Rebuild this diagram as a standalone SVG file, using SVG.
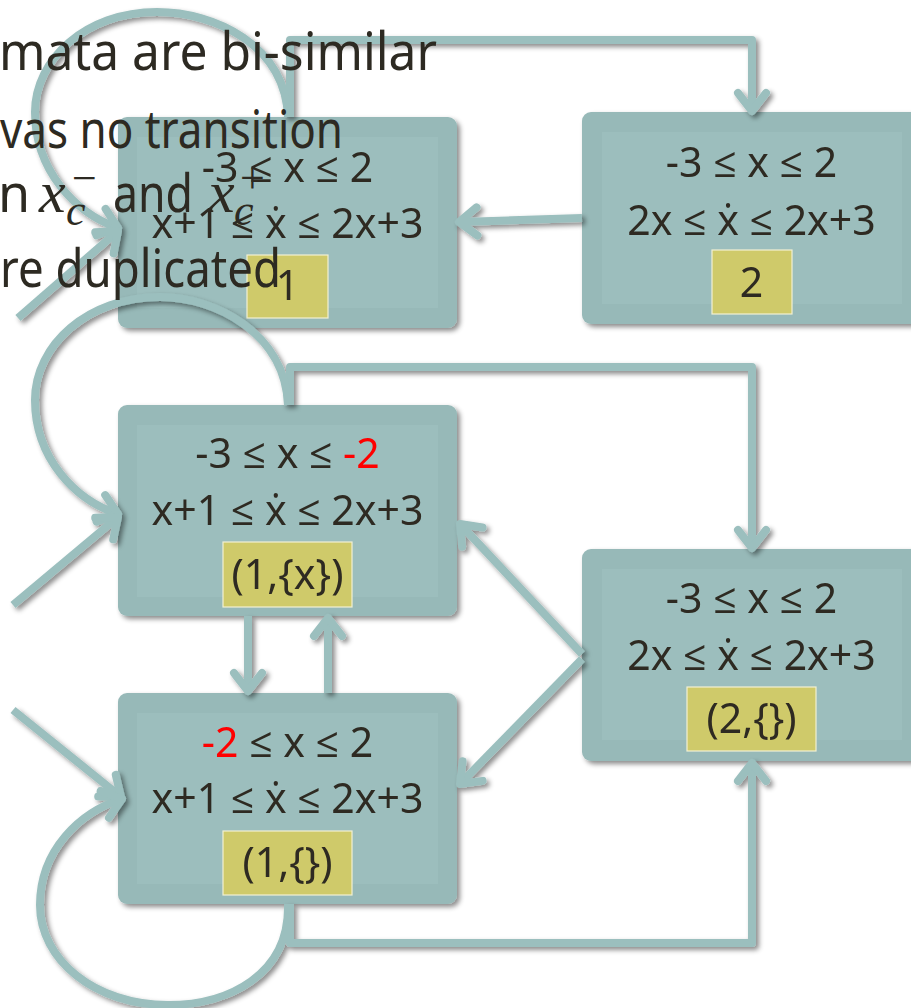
<svg xmlns="http://www.w3.org/2000/svg" width="911" height="1008" viewBox="0 0 911 1008">
<style>
.outer{fill:#97b9b8;}
.inner{fill:#9cbebd;}
.lab{fill:#cfca6a;stroke:#f2f0d2;stroke-width:1.2;}
.t{font-family:"Noto Sans","Open Sans",sans-serif;font-size:41px;fill:#2e2b22;text-anchor:middle;}
.red{fill:#ff0000;}
.bg{font-family:"Noto Sans","Open Sans",sans-serif;font-size:52px;fill:#2d2a22;}
.m{font-family:"Liberation Serif","DejaVu Serif",serif;font-style:italic;font-size:60px;fill:#2d2a22;}
.ms{font-family:"Liberation Serif","DejaVu Serif",serif;font-style:italic;font-size:44px;fill:#2d2a22;}
.sup{font-family:"Liberation Serif","DejaVu Serif",serif;font-size:44px;fill:#2d2a22;}
.c{fill:none;stroke:#9bbfbe;stroke-width:8;stroke-linejoin:round;stroke-linecap:butt;marker-end:url(#ah);}
</style>
<defs>
<filter id="sh" filterUnits="userSpaceOnUse" x="-20" y="-20" width="960" height="1060">
<feDropShadow dx="3" dy="3" stdDeviation="2.5" flood-color="#000" flood-opacity="0.45"/>
</filter>
<marker id="ah" markerUnits="userSpaceOnUse" orient="auto" markerWidth="50" markerHeight="50" viewBox="-25 -25 50 50" refX="0" refY="0" overflow="visible">
<path d="M-18,-14 L0,0 L-18,14" fill="none" stroke="#9bbfbe" stroke-width="8" stroke-linecap="round" stroke-linejoin="round"/>
</marker>
</defs>
<rect width="911" height="1008" fill="#ffffff"/>

<g id="node1" filter="url(#sh)">
<rect class="outer" x="118" y="117" width="339" height="211" rx="9"/>
<rect class="inner" x="137" y="137" width="301" height="171"/>
<text class="t" x="287.5" y="182">-3 ≤ x ≤ 2</text>
<text class="t" x="287.5" y="238">x+1 ≤ ẋ ≤ 2x+3</text>
<rect class="lab" x="247" y="255" width="81" height="63"/>
<text class="t" x="287.5" y="300">1</text>
</g>

<g id="node2" filter="url(#sh)">
<rect class="outer" x="582" y="112" width="339" height="212" rx="9"/>
<rect class="inner" x="602" y="132" width="300" height="172"/>
<text class="t" x="751.5" y="177">-3 ≤ x ≤ 2</text>
<text class="t" x="751.5" y="235">2x ≤ ẋ ≤ 2x+3</text>
<rect class="lab" x="712" y="250" width="80" height="64"/>
<text class="t" x="751.5" y="297">2</text>
</g>

<g id="node3" filter="url(#sh)">
<rect class="outer" x="118" y="405" width="339" height="211" rx="9"/>
<rect class="inner" x="137" y="425" width="301" height="172"/>
<text class="t" x="287.5" y="468">-3 ≤ x ≤ <tspan class="red">-2</tspan></text>
<text class="t" x="287.5" y="525">x+1 ≤ ẋ ≤ 2x+3</text>
<rect class="lab" x="223" y="542" width="129" height="65"/>
<text class="t" x="287.5" y="589">(1,{x})</text>
</g>

<g id="node4" filter="url(#sh)">
<rect class="outer" x="582" y="549" width="339" height="212" rx="9"/>
<rect class="inner" x="602" y="569" width="300" height="171"/>
<text class="t" x="751.5" y="613">-3 ≤ x ≤ 2</text>
<text class="t" x="751.5" y="670">2x ≤ ẋ ≤ 2x+3</text>
<rect class="lab" x="687" y="687" width="129" height="64"/>
<text class="t" x="751.5" y="733">(2,{})</text>
</g>

<g id="node5" filter="url(#sh)">
<rect class="outer" x="118" y="693" width="339" height="211" rx="9"/>
<rect class="inner" x="137" y="713" width="301" height="171"/>
<text class="t" x="287.5" y="757"><tspan class="red">-2</tspan> ≤ x ≤ 2</text>
<text class="t" x="287.5" y="813">x+1 ≤ ẋ ≤ 2x+3</text>
<rect class="lab" x="223" y="831" width="129" height="64"/>
<text class="t" x="287.5" y="877">(1,{})</text>
</g>

<g id="connectors" filter="url(#sh)">
<path class="c" d="M290,117 V40 H752 V111"/>
<path class="c" d="M582,218 L459,222"/>
<path class="c" d="M288,117 C285,45 215,12 157,12 C85,12 35,60 35,112 C35,170 75,213 118,228"/>
<path class="c" d="M18,318 L118,231"/>
<path class="c" d="M290,405 V367 H752 V548"/>
<path class="c" d="M288,405 C285,333 215,297 160,297 C88,297 35,345 35,400 C35,458 75,500 118,514"/>
<path class="c" d="M13,605 L118,517"/>
<path class="c" d="M248,616 V691"/>
<path class="c" d="M328,693 V618"/>
<path class="c" d="M582,654 L460,524"/>
<path class="c" d="M582,659 L460,784"/>
<path class="c" d="M13,710 L121,797"/>
<path class="c" d="M288,904 C290,975 228,1005 168,1005 C95,1005 40,960 40,905 C40,850 80,812 122,799"/>
<path class="c" d="M290,904 V943 H752 V763"/>
</g>

<g id="slide-text">
<text class="bg" x="-1" y="70" textLength="438" lengthAdjust="spacingAndGlyphs">mata are bi-similar</text>
<text class="bg" x="0" y="148" textLength="343" lengthAdjust="spacingAndGlyphs">vas no transition</text>
<text class="bg" x="-2" y="212">n</text>
<text class="m" x="39" y="212">x</text>
<text class="ms" x="66" y="225">c</text>
<text class="sup" x="72" y="193">−</text>
<text class="bg" x="113" y="212" textLength="80" lengthAdjust="spacingAndGlyphs">and</text>
<text class="m" x="208" y="212">x</text>
<text class="ms" x="234" y="225">c</text>
<text class="sup" x="240" y="193">+</text>
<text class="bg" x="0" y="287" textLength="281" lengthAdjust="spacingAndGlyphs">re duplicated</text>
</g>
</svg>
